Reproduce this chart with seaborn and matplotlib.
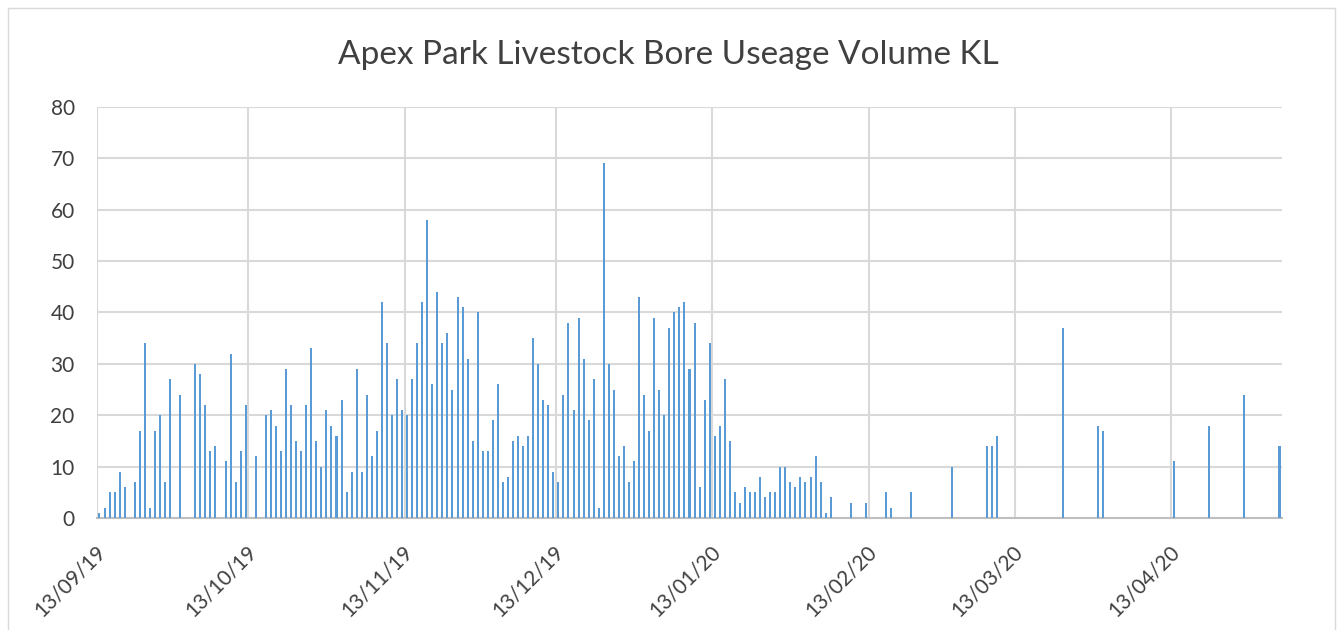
import pandas as pd
import seaborn as sns
import matplotlib.pyplot as plt
from matplotlib.patches import Rectangle
from matplotlib.transforms import ScaledTranslation

# readings: days since 13/09/19 and volume in KL
start_date = "2019-09-13"
day = [0, 1, 2, 3, 4, 5, 7, 8, 9, 10, 11, 12, 13, 14, 16, 19, 20, 21, 22, 23,
       25, 26, 27, 28, 29, 31, 33, 34, 35, 36, 37, 38, 39, 40, 41, 42, 43, 44,
       45, 46, 47, 48, 49, 50, 51, 52, 53, 54, 55, 56, 57, 58, 59, 60,
       61, 62, 63, 64, 65, 66, 67, 68, 69, 70, 71, 72, 73, 74, 75, 76, 77, 78,
       79, 80, 81, 82, 83, 84, 85, 86, 87, 88, 89, 90, 91,
       92, 93, 94, 95, 96, 97, 98, 99, 100, 101, 102, 103, 104, 105, 106, 107,
       108, 109, 110, 111, 112, 113, 114, 115, 116, 117, 118, 119, 120, 121, 122,
       123, 124, 125, 126, 127, 128, 129, 130, 131, 132, 133, 134, 135, 136, 137,
       138, 139, 140, 141, 142, 143, 144, 145, 149, 152, 156, 157, 161, 169,
       176, 177, 178, 191, 198, 199, 213, 220, 227, 234]
kl = [1, 2, 5, 5, 9, 6, 7, 17, 34, 2, 17, 20, 7, 27, 24, 30, 28, 22, 13, 14,
      11, 32, 7, 13, 22, 12, 20, 21, 18, 13, 29, 22, 15, 13, 22, 33, 15, 10,
      21, 18, 16, 23, 5, 9, 29, 9, 24, 12, 17, 42, 34, 20, 27, 21,
      20, 27, 34, 42, 58, 26, 44, 34, 36, 25, 43, 41, 31, 15, 40, 13, 13, 19,
      26, 7, 8, 15, 16, 14, 16, 35, 30, 23, 22, 9, 7,
      24, 38, 21, 39, 31, 19, 27, 2, 69, 30, 25, 12, 14, 7, 11, 43,
      24, 17, 39, 25, 20, 37, 40, 41, 42, 29, 38, 6, 23, 34, 16,
      18, 27, 15, 5, 3, 6, 5, 5, 8, 4, 5, 5, 10, 10, 7,
      6, 8, 7, 8, 12, 7, 1, 4, 3, 3, 5, 2, 5, 10,
      14, 14, 16, 37, 18, 17, 11, 18, 24, 14]
tick_labels = ["13/09/19", "13/10/19", "13/11/19", "13/12/19", "13/01/20",
               "13/02/20", "13/03/20", "13/04/20"]
n_days = 235

df = pd.DataFrame({"day": [d + 0.5 for d in day], "kl": kl})
tick_pos = [(pd.to_datetime(t, format="%d/%m/%y") - pd.Timestamp(start_date)).days
            for t in tick_labels]

sns.set_theme(style="white")
plt.rcParams["font.family"] = ["Lato", "DejaVu Sans"]

fig = plt.figure(figsize=(13.43, 6.3), dpi=100)
ax = fig.add_axes([0.0722, 0.1778, 0.8824, 0.6524])

sns.barplot(data=df, x="day", y="kl", native_scale=True, color="#5B9BD5",
            saturation=1, width=0.4, linewidth=0, errorbar=None, ax=ax, zorder=3)

ax.set_xlim(0, n_days)
ax.set_ylim(0, 80)
ax.set_yticks(range(0, 81, 10))
ax.set_xticks(tick_pos)
ax.set_xticklabels(tick_labels, rotation=45, ha="right", va="center",
                   rotation_mode="anchor")
ax.tick_params(axis="both", length=0, labelsize=15, colors="#404040")
ax.tick_params(axis="y", pad=16)
ax.tick_params(axis="x", pad=22)
shift = ScaledTranslation(5 / 100, 0, fig.dpi_scale_trans)
for lab in ax.get_xticklabels():
    lab.set_transform(lab.get_transform() + shift)
ax.grid(True, color="#D9D9D9", linewidth=1.5, zorder=0)
ax.set_axisbelow(True)
for s in ["top", "right", "left"]:
    ax.spines[s].set_visible(False)
ax.spines["bottom"].set_color("#BFBFBF")
ax.spines["bottom"].set_linewidth(1.5)
ax.set_xlabel("")
ax.set_ylabel("")

fig.text(0.4975, 0.913, "Apex Park Livestock Bore Useage Volume KL",
         ha="center", va="center", fontsize=24, color="#404040")
fig.add_artist(Rectangle((8 / 1343, -0.05), 1327 / 1343, 1.05 - 8 / 630,
                         transform=fig.transFigure, fill=False,
                         edgecolor="#D9D9D9", linewidth=1))

fig.savefig("out.png", dpi=100)
